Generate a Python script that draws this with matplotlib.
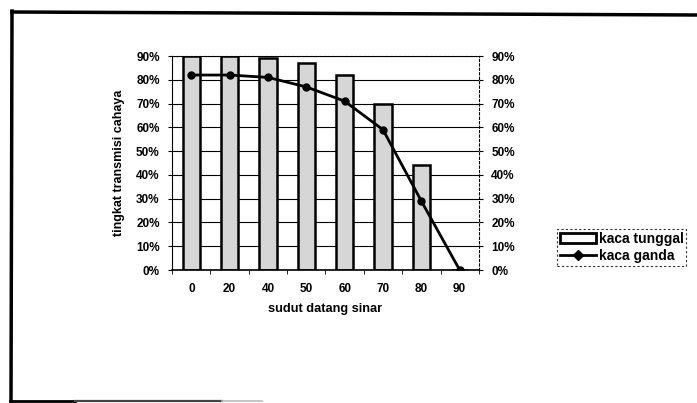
import matplotlib
matplotlib.use("Agg")
import matplotlib.pyplot as plt
from matplotlib.patches import Rectangle
from matplotlib.lines import Line2D
import numpy as np

categories = ["0", "20", "40", "50", "60", "70", "80", "90"]
kaca_tunggal = [90, 90, 89, 87, 82, 70, 44, 0]
kaca_ganda = [82, 82, 81, 77, 71, 59, 29, 0]
yticks = [0, 10, 20, 30, 40, 50, 60, 70, 80, 90]
ytick_labels = [f"{v}%" for v in yticks]

plt.rcParams['font.family'] = ['Liberation Sans', 'DejaVu Sans']

W, H = 697, 403
fig = plt.figure(figsize=(6.97, 4.03), dpi=100)

def fx(px):
    return px / W

def fy(py):
    return 1 - py / H

# partial outer frame (scanned page border)
fig.lines.append(Line2D([fx(12), fx(697)], [fy(12), fy(15)], transform=fig.transFigure,
                        color='black', linewidth=2.5))
fig.lines.append(Line2D([fx(12), fx(11)], [fy(11), fy(401)], transform=fig.transFigure,
                        color='black', linewidth=2.5))
fig.lines.append(Line2D([fx(10), fx(75)], [fy(401), fy(401)], transform=fig.transFigure,
                        color='black', linewidth=2.0))
fig.lines.append(Line2D([fx(75), fx(222)], [fy(401), fy(401)], transform=fig.transFigure,
                        color='#444444', linewidth=1.6))
fig.lines.append(Line2D([fx(222), fx(262)], [fy(401), fy(401)], transform=fig.transFigure,
                        color='#bbbbbb', linewidth=1.2))

ax = fig.add_axes([0.247, 0.330, 0.440, 0.531])
x = np.arange(len(categories))
ax.bar(x, kaca_tunggal, width=0.45, color='#d6d6d6', edgecolor='black', linewidth=1.8, zorder=2)
ax.plot(x, kaca_ganda, color='black', linewidth=2, marker='o', markersize=5, zorder=3)

ax.set_xlim(-0.5, len(categories) - 0.5)
ax.set_ylim(0, 90)
ax.set_yticks(yticks)
ax.set_yticklabels(ytick_labels, fontsize=8.5, fontweight='bold')
ax.set_xticks(x)
ax.set_xticklabels(categories, fontsize=8.5, fontweight='bold')
ax.set_xticks(np.arange(len(categories) + 1) - 0.5, minor=True)
ax.tick_params(axis='x', which='major', length=0, pad=9)
ax.tick_params(axis='x', which='minor', length=3, direction='out')
ax.tick_params(axis='y', length=3, direction='out', pad=6)
ax.grid(axis='y', color='black', linewidth=0.8, zorder=0)
ax.set_axisbelow(True)
for s in ['top', 'right']:
    ax.spines[s].set_linestyle((0, (2, 2)))
    ax.spines[s].set_linewidth(0.8)
ax.spines['left'].set_linestyle((0, (3, 1)))
ax.spines['bottom'].set_linewidth(1.2)

ax2 = ax.twinx()
ax2.set_ylim(0, 90)
ax2.set_yticks(yticks)
ax2.set_yticklabels(ytick_labels, fontsize=8.5, fontweight='bold')
ax2.tick_params(axis='y', length=3, direction='out', pad=6)
for s in ax2.spines.values():
    s.set_visible(False)

ax.set_xlabel("sudut datang sinar", fontsize=9.2, fontweight='bold', labelpad=6)
ax.set_ylabel("tingkat transmisi cahaya", fontsize=9, fontweight='bold', labelpad=8)

handles = [Rectangle((0, 0), 1, 1, facecolor='white', edgecolor='black', linewidth=2),
           Line2D([0], [0], color='black', linewidth=2, marker='D', markersize=5)]
leg = fig.legend(handles, ["kaca tunggal", "kaca ganda"], loc='upper left',
                 bbox_to_anchor=(fx(557), fy(229)), frameon=True, fancybox=False,
                 prop={'size': 10, 'weight': 'bold'}, handlelength=2.6,
                 handletextpad=0.2, borderpad=0.2, labelspacing=0.25, borderaxespad=0)
leg.get_frame().set_edgecolor('black')
leg.get_frame().set_linestyle((0, (2, 2)))
leg.get_frame().set_linewidth(0.8)

fig.savefig("out.png", dpi=100)
